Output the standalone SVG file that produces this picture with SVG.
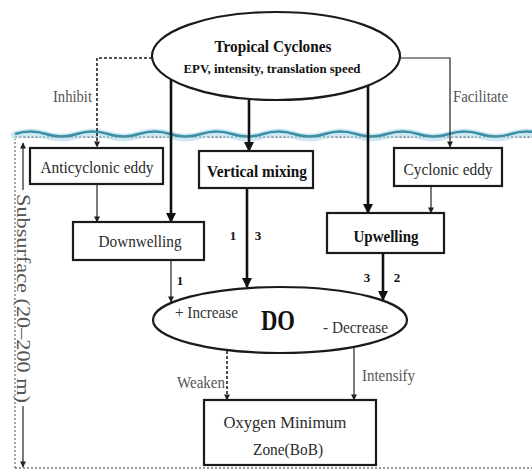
<svg xmlns="http://www.w3.org/2000/svg" width="532" height="473" viewBox="0 0 532 473" font-family="'Liberation Serif', 'Times New Roman', serif">
<style>
text{font-family:'Liberation Serif','Times New Roman',serif;}
.box{fill:#fff;stroke:#1a1a1a;stroke-width:2.2;}
.ell{fill:#fff;stroke:#1a1a1a;stroke-width:2.2;}
.thick{stroke:#111;stroke-width:2.6;fill:none;}
.thin{stroke:#222;stroke-width:1.2;fill:none;}
.dash{stroke:#222;stroke-width:1.6;fill:none;stroke-dasharray:3 2;}
.lbl{fill:#555;font-size:16.5px;}
.bt{fill:#2a2a2a;font-size:17px;text-anchor:middle;}
.bb{fill:#111;font-size:16.5px;font-weight:bold;text-anchor:middle;}
.num{fill:#111;font-size:13px;font-weight:bold;text-anchor:middle;}
</style>
<defs>
<marker id="hk" markerUnits="userSpaceOnUse" markerWidth="10" markerHeight="12" refX="9" refY="5" orient="auto" viewBox="0 0 10 10"><path d="M0,0 L10,5 L0,10 Z" fill="#111"/></marker>
<marker id="hs" markerUnits="userSpaceOnUse" markerWidth="7" markerHeight="6" refX="9" refY="5" orient="auto" viewBox="0 0 10 10"><path d="M0,0 L10,5 L0,10 Z" fill="#222"/></marker>
</defs>

<!-- subsurface frame -->
<g id="frame">
<path d="M15,468 V137 H532 M15,468 H532" fill="none" stroke="#777" stroke-width="1.3" stroke-dasharray="2 2"/>
<path d="M15,135 q15.5,-5 31,0 t31,0 t31,0 t31,0 t31,0 t31,0 t31,0 t31,0 t31,0 t31,0 t31,0 t31,0 t31,0 t31,0 t31,0 t31,0 t31,0" fill="none" stroke="#cfe9f2" stroke-width="8" stroke-linecap="round"/>
<path d="M15,134 q15.5,-5 31,0 t31,0 t31,0 t31,0 t31,0 t31,0 t31,0 t31,0 t31,0 t31,0 t31,0 t31,0 t31,0 t31,0 t31,0 t31,0 t31,0" fill="none" stroke="#3a8ea6" stroke-width="2.4"/>
<path d="M15,137 H532" fill="none" stroke="#6c8f9c" stroke-width="1.2" stroke-dasharray="2 2"/>
</g>

<g id="subsurface-label">
<line x1="23" y1="190" x2="23" y2="143" class="thin" marker-end="url(#hs)"/>
<line x1="23" y1="406" x2="23" y2="467" class="thin" marker-end="url(#hs)"/>
<text transform="translate(17,194) rotate(90)" fill="#555" font-size="18" textLength="209" lengthAdjust="spacingAndGlyphs">Subsurface (20–200 m)</text>
</g>

<g id="connectors">
<path d="M152,58 H97 V147" class="dash" marker-end="url(#hs)"/>
<path d="M398,58 H450 V147" class="thin" marker-end="url(#hs)"/>
<line x1="171" y1="80" x2="171" y2="222" class="thick" marker-end="url(#hk)"/>
<line x1="249" y1="100" x2="249" y2="151" class="thick" marker-end="url(#hk)"/>
<line x1="368" y1="86" x2="368" y2="213" class="thick" marker-end="url(#hk)"/>
<line x1="97" y1="185" x2="97" y2="222" class="thin" marker-end="url(#hs)"/>
<line x1="431" y1="187" x2="431" y2="213" class="thin" marker-end="url(#hs)"/>
<line x1="247" y1="189" x2="247" y2="287" class="thick" marker-end="url(#hk)"/>
<line x1="171" y1="261" x2="171" y2="302" class="thin" marker-end="url(#hs)"/>
<line x1="383" y1="254" x2="383" y2="300" class="thick" marker-end="url(#hk)"/>
<line x1="227" y1="351" x2="227" y2="400" class="dash" marker-end="url(#hs)"/>
<line x1="354" y1="348" x2="354" y2="400" class="thin" marker-end="url(#hs)"/>
<text x="53" y="102" class="lbl" textLength="39" lengthAdjust="spacingAndGlyphs">Inhibit</text>
<text x="453" y="102" class="lbl" textLength="55" lengthAdjust="spacingAndGlyphs">Facilitate</text>
<text x="177" y="388" class="lbl" textLength="48" lengthAdjust="spacingAndGlyphs">Weaken</text>
<text x="362" y="381" class="lbl" textLength="53" lengthAdjust="spacingAndGlyphs">Intensify</text>
<text x="233" y="240" class="num">1</text>
<text x="258" y="240" class="num">3</text>
<text x="180" y="285" class="num">1</text>
<text x="367" y="282" class="num">3</text>
<text x="397" y="282" class="num">2</text>
</g>

<g id="tropical-cyclones">
<ellipse cx="276" cy="56" rx="124" ry="44" class="ell"/>
<text x="273" y="52" fill="#111" font-size="17" font-weight="bold" text-anchor="middle" textLength="117" lengthAdjust="spacingAndGlyphs">Tropical Cyclones</text>
<text x="272" y="73" fill="#111" font-size="12" font-weight="bold" text-anchor="middle" textLength="177" lengthAdjust="spacingAndGlyphs">EPV, intensity, translation speed</text>
</g>

<g id="anticyclonic-eddy">
<rect x="30" y="148" width="133" height="36" class="box"/>
<text x="97" y="173" class="bt" textLength="113" lengthAdjust="spacingAndGlyphs">Anticyclonic eddy</text>
</g>

<g id="vertical-mixing">
<rect x="199" y="151" width="114" height="37" class="box"/>
<text x="257" y="177" class="bb" textLength="100" lengthAdjust="spacingAndGlyphs">Vertical mixing</text>
</g>

<g id="cyclonic-eddy">
<rect x="394" y="148" width="108" height="38" class="box"/>
<text x="448" y="175" class="bt" textLength="89" lengthAdjust="spacingAndGlyphs">Cyclonic eddy</text>
</g>

<g id="downwelling">
<rect x="73" y="222" width="131" height="38" class="box"/>
<text x="140" y="247" class="bt" textLength="83" lengthAdjust="spacingAndGlyphs">Downwelling</text>
</g>

<g id="upwelling">
<rect x="327" y="213" width="117" height="40" class="box"/>
<text x="386" y="242" class="bb" textLength="65" lengthAdjust="spacingAndGlyphs">Upwelling</text>
</g>

<g id="do">
<ellipse cx="280" cy="320" rx="127" ry="33" class="ell"/>
<text x="175" y="318" fill="#333" font-size="17" textLength="63" lengthAdjust="spacingAndGlyphs">+ Increase</text>
<text x="278" y="330" fill="#111" font-size="29" font-weight="bold" text-anchor="middle" textLength="34" lengthAdjust="spacingAndGlyphs">DO</text>
<text x="323" y="333" fill="#333" font-size="17" textLength="65" lengthAdjust="spacingAndGlyphs">- Decrease</text>
</g>

<g id="omz">
<rect x="204" y="400" width="172" height="65" class="box"/>
<text x="285" y="428" class="bt" textLength="123" lengthAdjust="spacingAndGlyphs">Oxygen Minimum</text>
<text x="288" y="455" class="bt" textLength="70" lengthAdjust="spacingAndGlyphs">Zone(BoB)</text>
</g>
</svg>
